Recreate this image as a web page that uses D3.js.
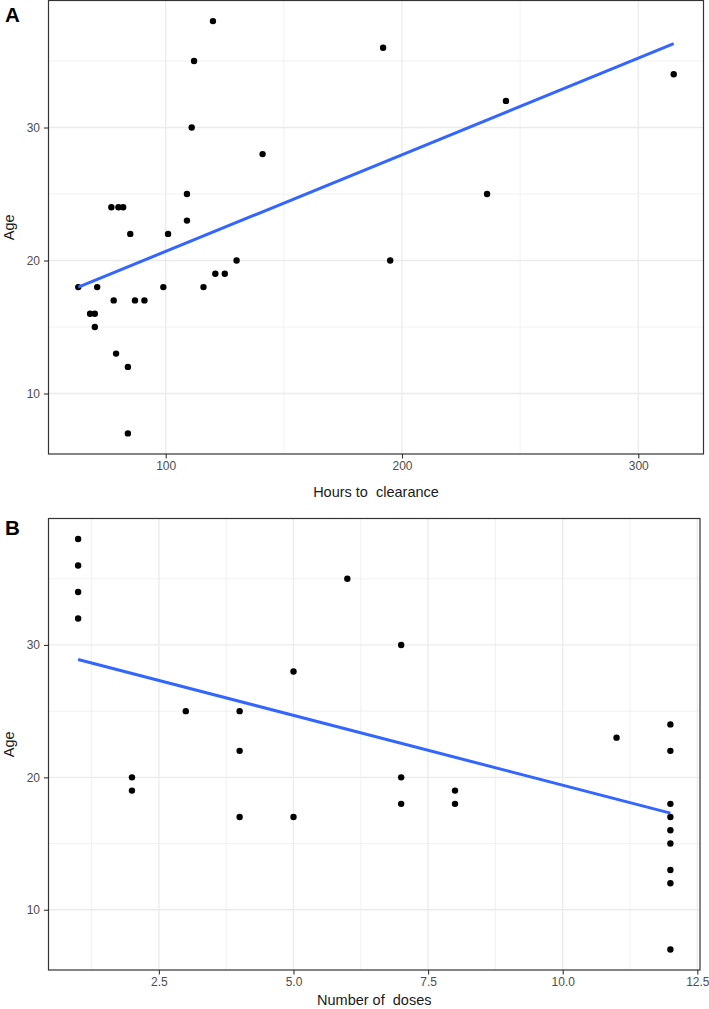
<!DOCTYPE html>
<html>
<head>
<meta charset="utf-8">
<script src="https://cdn.jsdelivr.net/npm/d3@7"></script>
<style>
  html, body { margin: 0; padding: 0; background: #fff; }
  svg { display: block; font-family: "Liberation Sans", Arial, Helvetica, sans-serif; }
  .title { white-space: pre; }
</style>
</head>
<body>
<svg id="chart" width="709" height="1009"></svg>
<script>
// ---------- Data ----------
// Panel A: hours to clearance vs age
const hoursA = [120, 112, 111, 141, 109, 77, 80, 82, 109, 85, 101, 130, 121, 125,
                63, 71, 99, 116, 78, 87, 91, 68, 70, 70, 79, 84, 84,
                192, 244, 315, 236, 195];
const ageA   = [38, 35, 30, 28, 25, 24, 24, 24, 23, 22, 22, 20, 19, 19,
                18, 18, 18, 18, 17, 17, 17, 16, 16, 15, 13, 12, 7,
                36, 32, 34, 25, 20];
// fitted linear trend (endpoints in data units)
const fitAx = [63, 315];
const fitAy = [18.0, 36.3];

// Panel B: number of doses vs age
const dosesB = [1, 1, 1, 1, 6, 5, 3, 4, 4, 2, 2, 4, 5, 7, 11, 12, 12,
                7, 7, 8, 8, 12, 12, 12, 12, 12, 12, 12];
const ageB   = [38, 36, 34, 32, 35, 28, 25, 25, 22, 20, 19, 17, 17, 30, 23, 24, 22,
                20, 18, 19, 18, 18, 17, 16, 15, 13, 12, 7];
const fitBx = [1, 12];
const fitBy = [28.9, 17.3];

const ticksA = [100, 200, 300];
const minorA = [50, 150, 250];
const ticksB = [2.5, 5.0, 7.5, 10.0, 12.5];
const minorB = [1.25, 3.75, 6.25, 8.75, 11.25];
const ageTicks = [10, 20, 30];
const ageMinor = [5, 15, 25, 35];

// ---------- Drawing ----------
const svg = d3.select("#chart");
const gridCol = "#ebebeb";
const borderCol = "#333333";
const tickTextCol = "#4d4d4d";
const lineCol = "#3366FF";

function expand(ext, f = 0.05) {
  const r = ext[1] - ext[0];
  return [ext[0] - r * f, ext[1] + r * f];
}

function panel(opts) {
  const { xs, ys, fx, fy, left, right, top, bottom, xTicks, xMinor, xFmt, xTitle, letter, letterY, titleY } = opts;
  const x = d3.scaleLinear().domain(expand(d3.extent(xs))).range([left, right]);
  const yDom = expand(d3.extent(ys.concat(ageA, ageB)));
  const y = d3.scaleLinear().domain(yDom).range([bottom, top]);
  const g = svg.append("g");

  g.append("rect").attr("x", left).attr("y", top).attr("width", right - left).attr("height", bottom - top).attr("fill", "#fff");

  // minor grid
  g.selectAll(".vminor").data(xMinor.filter(v => x(v) > left && x(v) < right)).join("line")
    .attr("x1", d => x(d)).attr("x2", d => x(d)).attr("y1", top).attr("y2", bottom)
    .attr("stroke", gridCol).attr("stroke-width", 0.7);
  g.selectAll(".hminor").data(ageMinor.filter(v => y(v) > top && y(v) < bottom)).join("line")
    .attr("y1", d => y(d)).attr("y2", d => y(d)).attr("x1", left).attr("x2", right)
    .attr("stroke", gridCol).attr("stroke-width", 0.7);
  // major grid
  g.selectAll(".vmajor").data(xTicks.filter(v => x(v) >= left && x(v) <= right)).join("line")
    .attr("x1", d => x(d)).attr("x2", d => x(d)).attr("y1", top).attr("y2", bottom)
    .attr("stroke", gridCol).attr("stroke-width", 1.3);
  g.selectAll(".hmajor").data(ageTicks).join("line")
    .attr("y1", d => y(d)).attr("y2", d => y(d)).attr("x1", left).attr("x2", right)
    .attr("stroke", gridCol).attr("stroke-width", 1.3);

  // points
  g.selectAll("circle").data(xs.map((v, i) => [v, ys[i]])).join("circle")
    .attr("cx", d => x(d[0])).attr("cy", d => y(d[1])).attr("r", 3.2).attr("fill", "#000");

  // fit line
  g.append("path")
    .datum(fx.map((v, i) => [v, fy[i]]))
    .attr("d", d3.line().x(d => x(d[0])).y(d => y(d[1])))
    .attr("stroke", lineCol).attr("stroke-width", 3).attr("fill", "none");

  // border
  g.append("rect").attr("x", left).attr("y", top).attr("width", right - left).attr("height", bottom - top)
    .attr("fill", "none").attr("stroke", borderCol).attr("stroke-width", 1.2);

  // axes
  const xa = g.append("g").attr("transform", `translate(0,${bottom})`)
    .call(d3.axisBottom(x).tickValues(xTicks).tickFormat(xFmt).tickSize(4.5).tickPadding(3));
  const ya = g.append("g").attr("transform", `translate(${left},0)`)
    .call(d3.axisLeft(y).tickValues(ageTicks).tickFormat(d3.format("d")).tickSize(4.5).tickPadding(4));
  [xa, ya].forEach(a => {
    a.select(".domain").remove();
    a.selectAll(".tick line").attr("stroke", borderCol).attr("stroke-width", 1.1);
    a.selectAll(".tick text").style("fill", tickTextCol).attr("font-size", 12)
      .attr("font-family", "'Liberation Sans', Arial, sans-serif");
  });

  // titles
  svg.append("text").attr("class", "title").attr("x", (left + right) / 2).attr("y", titleY)
    .attr("text-anchor", "middle").attr("font-size", 14.5).style("fill", "#1a1a1a").text(xTitle);
  svg.append("text").attr("transform", `translate(14,${(top + bottom) / 2}) rotate(-90)`)
    .attr("text-anchor", "middle").attr("font-size", 14.5).style("fill", "#1a1a1a").text("Age");
  svg.append("text").attr("x", 5).attr("y", letterY).attr("font-size", 20.5).attr("font-weight", "bold")
    .style("fill", "#000").text(letter);
}

panel({
  xs: hoursA, ys: ageA, fx: fitAx, fy: fitAy,
  left: 48.5, right: 703.5, top: 0.5, bottom: 454,
  xTicks: ticksA, xMinor: minorA, xFmt: d3.format("d"),
  xTitle: "Hours to  clearance", letter: "A", letterY: 21.5, titleY: 496.5
});

panel({
  xs: dosesB, ys: ageB, fx: fitBx, fy: fitBy,
  left: 48.5, right: 700, top: 518.5, bottom: 970,
  xTicks: ticksB, xMinor: minorB, xFmt: d3.format(".1f"),
  xTitle: "Number of  doses", letter: "B", letterY: 535, titleY: 1005
});
</script>
</body>
</html>
